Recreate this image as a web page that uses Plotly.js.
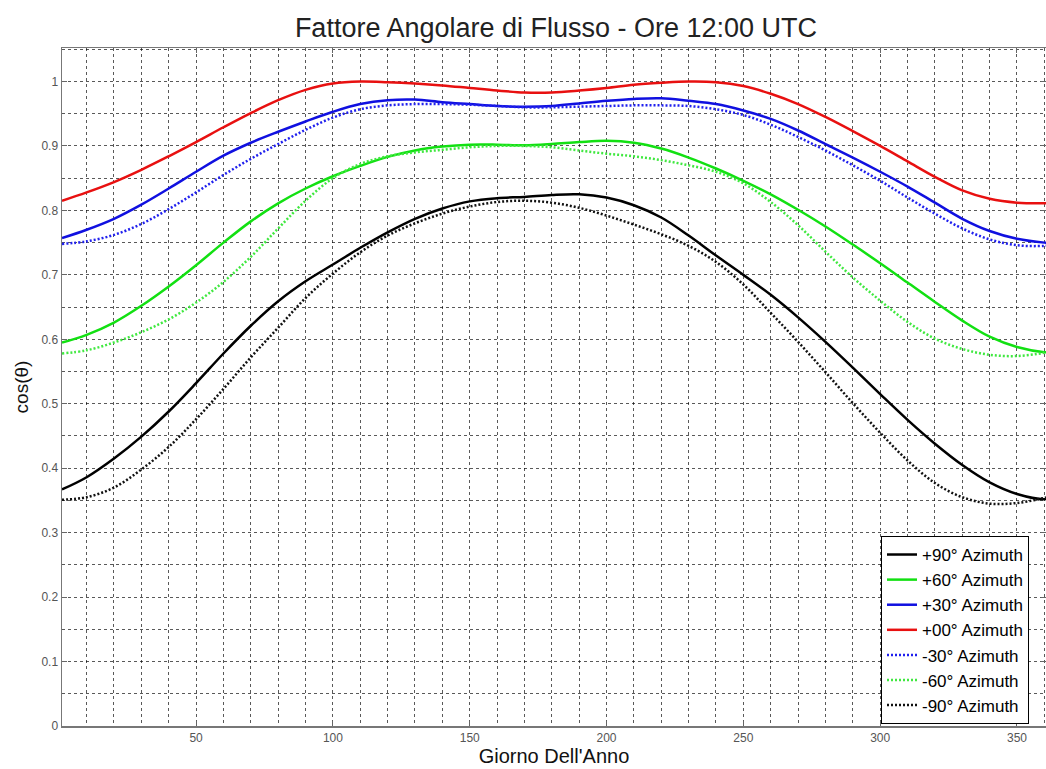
<!DOCTYPE html>
<html>
<head>
<meta charset="utf-8">
<script src="https://cdn.plot.ly/plotly-3.0.1.min.js"></script>
<style>html,body{margin:0;padding:0;background:#fff;}#chart{width:1046px;height:769px;}</style>
</head>
<body>
<div id="chart"></div>
<script>
var days = [1,10,20,30,40,50,60,70,80,90,100,110,120,130,140,150,160,170,180,190,200,210,220,230,240,250,260,270,280,290,300,310,320,330,340,350,360,365];

var p90 = [0.367,0.386,0.415,0.449,0.488,0.532,0.578,0.621,0.659,0.690,0.716,0.742,0.766,0.787,0.803,0.814,0.819,0.821,0.824,0.825,0.820,0.808,0.789,0.761,0.730,0.700,0.669,0.634,0.596,0.556,0.515,0.475,0.438,0.405,0.378,0.360,0.352,0.356];
var p60 = [0.595,0.607,0.626,0.652,0.682,0.715,0.750,0.783,0.811,0.834,0.853,0.869,0.883,0.893,0.899,0.902,0.902,0.901,0.903,0.906,0.908,0.905,0.896,0.882,0.865,0.846,0.825,0.801,0.775,0.747,0.718,0.688,0.658,0.629,0.604,0.588,0.580,0.580];
var p30 = [0.757,0.770,0.787,0.809,0.834,0.860,0.885,0.905,0.922,0.938,0.953,0.965,0.971,0.972,0.968,0.965,0.962,0.961,0.962,0.966,0.970,0.973,0.974,0.970,0.965,0.955,0.942,0.924,0.903,0.882,0.860,0.837,0.812,0.787,0.768,0.756,0.750,0.749];
var p00 = [0.815,0.828,0.844,0.863,0.884,0.906,0.929,0.951,0.971,0.987,0.997,1.000,0.999,0.997,0.994,0.990,0.986,0.983,0.983,0.986,0.990,0.995,0.998,1.000,0.999,0.993,0.981,0.965,0.945,0.923,0.900,0.876,0.852,0.831,0.818,0.812,0.811,0.812];
var m30 = [0.748,0.752,0.762,0.779,0.802,0.828,0.855,0.880,0.903,0.925,0.944,0.957,0.963,0.965,0.965,0.964,0.962,0.960,0.960,0.961,0.962,0.963,0.963,0.962,0.957,0.948,0.933,0.914,0.893,0.870,0.846,0.820,0.795,0.772,0.755,0.746,0.745,0.748];
var m60 = [0.578,0.583,0.595,0.611,0.631,0.657,0.689,0.728,0.772,0.815,0.850,0.872,0.884,0.890,0.894,0.898,0.900,0.900,0.898,0.893,0.888,0.884,0.878,0.870,0.860,0.842,0.813,0.777,0.736,0.696,0.660,0.627,0.601,0.585,0.576,0.574,0.579,0.583];
var m90 = [0.351,0.355,0.370,0.398,0.433,0.476,0.523,0.572,0.618,0.664,0.702,0.735,0.761,0.780,0.795,0.806,0.813,0.815,0.812,0.804,0.792,0.778,0.763,0.745,0.720,0.685,0.641,0.596,0.549,0.501,0.455,0.412,0.377,0.355,0.345,0.346,0.354,0.360];

var seriesNames = ["+90° Azimuth","+60° Azimuth","+30° Azimuth","+00° Azimuth","-30° Azimuth","-60° Azimuth","-90° Azimuth"];
var seriesValues = [p90,p60,p30,p00,m30,m60,m90];
var seriesColors = ["#000000","#12e012","#1010e0","#e81010","#2020ee","#40e840","#111111"];
var seriesDash = ["solid","solid","solid","solid","2px,2px","2px,2px","2px,2px"];

var traces = seriesValues.map(function(v,i){
  return {
    x: days, y: v, type: "scatter", mode: "lines", name: seriesNames[i],
    line: {color: seriesColors[i], width: 2.5, dash: seriesDash[i], shape: "spline", smoothing: 1}
  };
});

var gridC = "rgba(0,0,0,0.65)";
var layout = {
  width: 1046, height: 769,
  margin: {l: 62, r: 0, t: 48, b: 43, pad: 0},
  paper_bgcolor: "#ffffff", plot_bgcolor: "#ffffff",
  font: {family: "Liberation Sans, Arial, sans-serif", color: "#000"},
  title: {text: "Fattore Angolare di Flusso - Ore 12:00 UTC", font: {size: 27, color: "#222"},
          x: 556/1046, xanchor: "center", xref: "container", y: 1 - 28/769, yanchor: "middle", yref: "container"},
  xaxis: {
    range: [1, 360.6], tickmode: "array", tickvals: [50,100,150,200,250,300,350],
    ticks: "inside", ticklen: 5, tickcolor: "#666", showline: true, linecolor: "#777", linewidth: 1.5, mirror: "ticks",
    showgrid: true, gridcolor: gridC, griddash: "dot", gridwidth: 1,
    minor: {tickmode: "array", tickvals: [10,20,30,40,60,70,80,90,110,120,130,140,160,170,180,190,210,220,230,240,260,270,280,290,310,320,330,340,360], showgrid: true, gridcolor: gridC, griddash: "dot", gridwidth: 1},
    tickfont: {size: 12, color: "#555"}, zeroline: false,
    title: {text: "Giorno Dell'Anno", font: {size: 20, color: "#111"}, standoff: 4}
  },
  yaxis: {
    range: [0, 1.052], tickmode: "array", tickvals: [0,0.1,0.2,0.3,0.4,0.5,0.6,0.7,0.8,0.9,1],
    ticktext: ["0","0.1","0.2","0.3","0.4","0.5","0.6","0.7","0.8","0.9","1"],
    ticks: "inside", ticklen: 5, tickcolor: "#666", showline: true, linecolor: "#777", linewidth: 1.5, mirror: "ticks",
    showgrid: true, gridcolor: gridC, griddash: "dot", gridwidth: 1,
    minor: {tickmode: "array", tickvals: [0.05,0.15,0.25,0.35,0.45,0.55,0.65,0.75,0.85,0.95,1.05], showgrid: true, gridcolor: gridC, griddash: "dot", gridwidth: 1},
    tickfont: {size: 12, color: "#555"}, zeroline: false,
    title: {text: "cos(θ)", font: {size: 19, color: "#111"}, standoff: 8}
  },
  showlegend: true,
  legend: {x: 819/984, xanchor: "left", y: 0.003, yanchor: "bottom", bgcolor: "#ffffff",
           bordercolor: "#000", borderwidth: 1, font: {size: 17, color: "#000"}, tracegroupgap: 0, itemwidth: 30}
};

Plotly.newPlot("chart", traces, layout, {displayModeBar: false, staticPlot: true});
</script>
</body>
</html>
